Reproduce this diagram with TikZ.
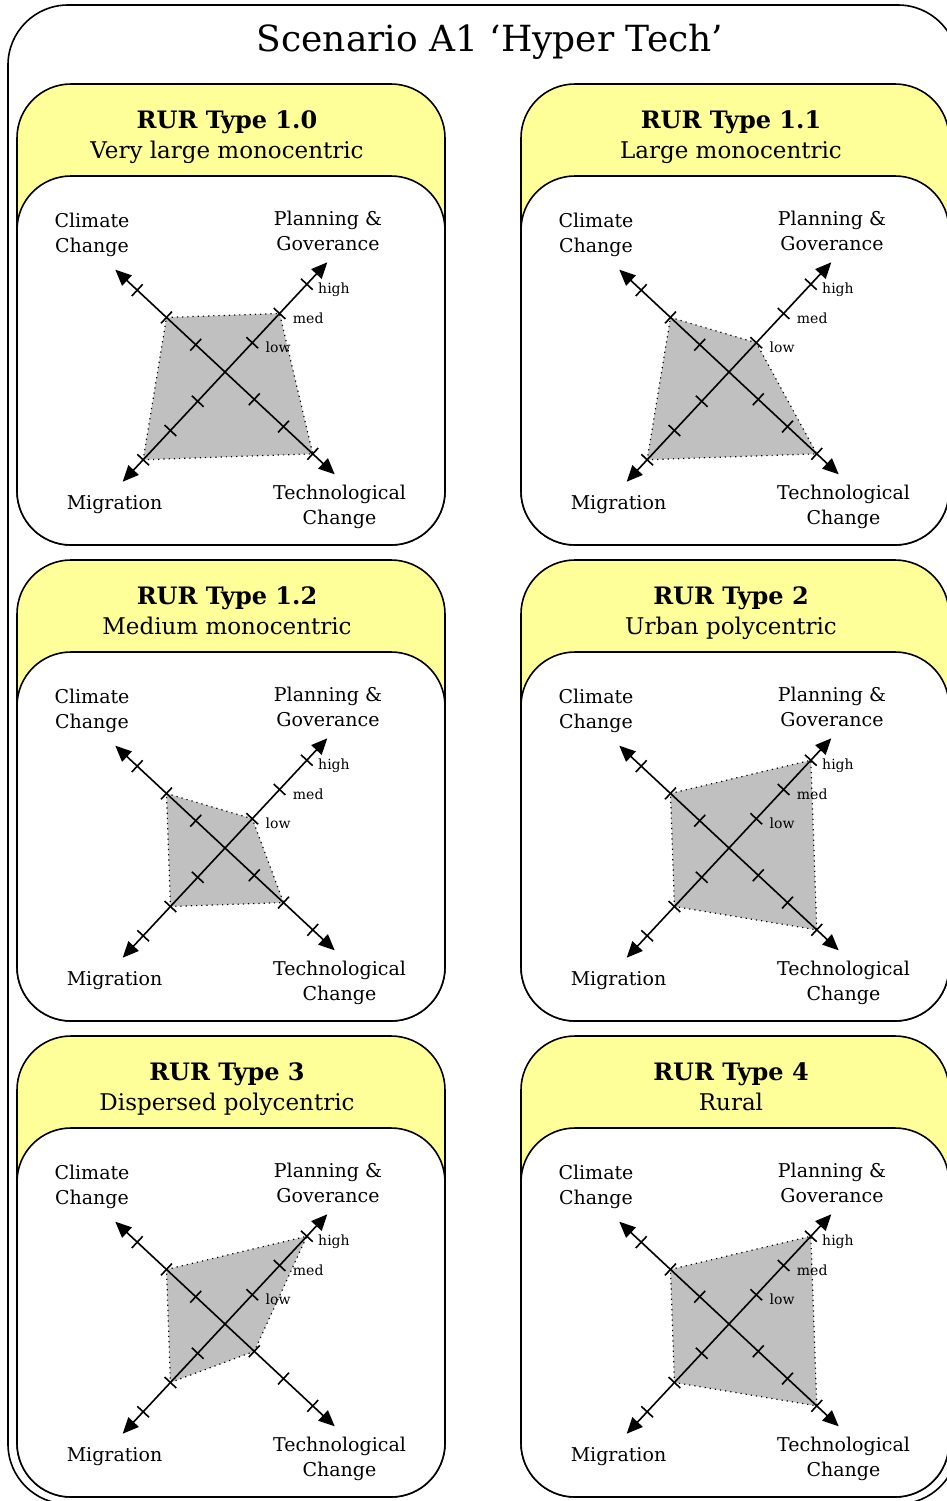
\documentclass[tikz,border=0pt]{standalone}
\usepackage{fontspec}
\setmainfont{DejaVu Serif}
\usetikzlibrary{arrows.meta,calc}
\definecolor{headyellow}{HTML}{FFFF99}
\definecolor{areagray}{HTML}{C0C0C0}

\tikzset{
  panelbox/.style={draw,line width=0.8pt,rounded corners=27pt},
  axisline/.style={line width=0.8pt,{Triangle[length=8pt,width=7pt]}-{Triangle[length=8pt,width=7pt]}},
  tickmark/.style={line width=0.8pt},
  area/.style={fill=areagray,draw,dotted,line width=0.6pt},
  axislabel/.style={align=center,font=\fontsize{9.5}{12.5}\selectfont,inner sep=0pt},
  levellabel/.style={anchor=base west,font=\fontsize{7}{8}\selectfont,inner sep=0pt},
  headlabel/.style={align=center,font=\fontsize{11.5}{15}\selectfont,inner sep=0pt}
}

\begin{document}
\begin{tikzpicture}[x=0.5pt,y=-0.5pt]
  \useasboundingbox (0,0) rectangle (947,1501);
  % outer frame and title
  \draw[panelbox,rounded corners=30pt] (8,5) rectangle (958,1504);
  \node[font=\fontsize{18}{22}\selectfont,inner sep=0pt] (scen) at (490,42) {Scenario A1 `Hyper Tech'};
  % one panel per RUR type: name/x/y/type/subtitle/climate/planning/tech/migration
  \foreach \n/\px/\py/\ttl/\sub/\cc/\pg/\tc/\mi in {
      a/17/84/1.0/Very large monocentric/2/2/3/3,
      b/521/84/1.1/Large monocentric/2/1/3/3,
      c/17/560/1.2/Medium monocentric/2/1/2/2,
      d/521/560/2/Urban polycentric/2/3/3/2,
      e/17/1036/3/Dispersed polycentric/2/3/1/2,
      f/521/1036/4/Rural/2/3/3/2}{
    \draw[panelbox,fill=headyellow] (\px,\py) rectangle (\px+428,\py+461);
    \draw[panelbox,fill=white] (\px,\py+92) rectangle (\px+428,\py+461);
    \node[headlabel] (h\n) at (\px+210,\py+53) {{\fontsize{12}{15}\selectfont\textbf{RUR Type \ttl}}\strut\\\sub\strut};
    \coordinate (c\n) at (\px+208,\py+288);
    \coordinate (cc\n) at ($(c\n)+(223:150)$);
    \coordinate (pg\n) at ($(c\n)+(313:150)$);
    \coordinate (tc\n) at ($(c\n)+(43:150)$);
    \coordinate (mi\n) at ($(c\n)+(133:150)$);
    \draw[area] ($(c\n)+(223:40*\cc)$) -- ($(c\n)+(313:40*\pg)$)
      -- ($(c\n)+(43:40*\tc)$) -- ($(c\n)+(133:40*\mi)$) -- cycle;
    \foreach \a in {43,133,223,313}
      \foreach \k in {1,2,3}
        \draw[tickmark] ($(c\n)+(\a:40*\k)+(\a+90:8)$) -- ($(c\n)+(\a:40*\k)+(\a-90:8)$);
    \draw[axisline] (cc\n) -- (tc\n);
    \draw[axisline] (mi\n) -- (pg\n);
    \node[levellabel] (lo\n) at ($(c\n)+(313:40)+(13,9.5)$) {low};
    \node[levellabel] (md\n) at ($(c\n)+(313:80)+(13,9.5)$) {med};
    \node[levellabel] (hi\n) at ($(c\n)+(313:120)+(11,9.5)$) {high};
    \node[axislabel] (ccl\n) at (\px+75,\py+151) {Climate\\Change};
    \node[axislabel] (pgl\n) at (\px+311,\py+147) {Planning \&\\Goverance};
    \node[axislabel] (mil\n) at (\px+97.5,\py+421) {Migration};
    \node[axislabel] (tcl\n) at (\px+322.5,\py+423) {Technological\\Change};
  }
\end{tikzpicture}
\end{document}
